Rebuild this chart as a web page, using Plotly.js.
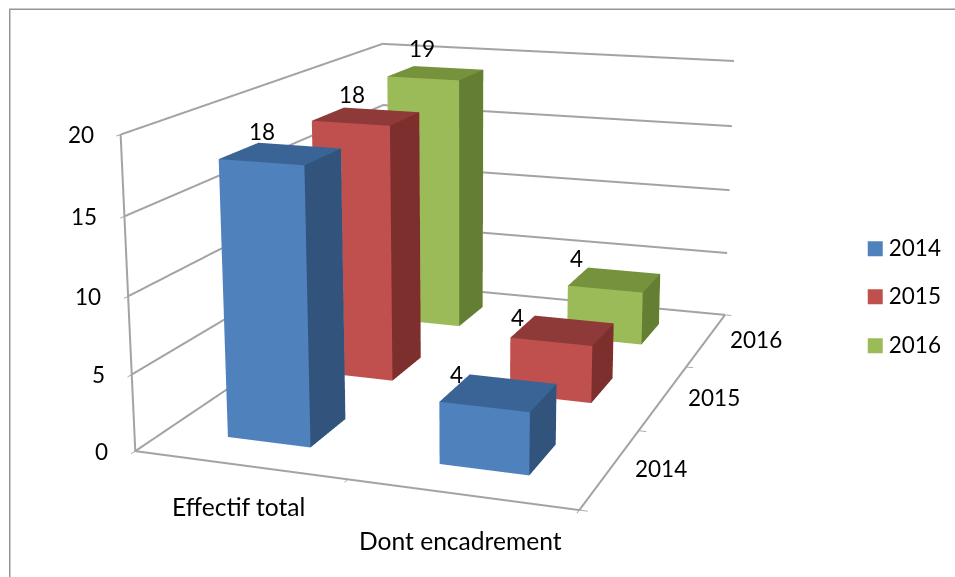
<!DOCTYPE html>
<html><head><meta charset="utf-8">
<script src="https://cdn.plot.ly/plotly-3.0.1.min.js"></script>
<style>html,body{margin:0;padding:0;overflow:hidden;background:#fff;width:955px;height:577px}
#g{position:absolute}</style>
</head><body><div id="g"></div>
<script>
const categories=['Effectif total','Dont encadrement'];
const seriesNames=['2014','2015','2016'];
const v2014=[18,4], v2015=[18,4], v2016=[19,4];
const vals=[v2014,v2015,v2016];
const zTicks=[0,5,10,15,20];
// offsets (px) of each value label from the centre of its bar top: [series][category]
const labelShift=[[[-19,22],[-42,18]],[[-14,22],[-45,13]],[[-14,25],[-38,21]]];
const catShift=[-42,-46];
const swatchTop=[241,289,338];
const faceColors=[['#4F81BD','#3A6496','#32547C'],['#C0504D','#8E3A38','#7D2F2E'],['#9BBB59','#76923C','#647F33']];
const lineColor='#a3a3a3';
// camera solved against the reference's axis corners
const ex=1.3978,ey=-3.986,ez=1.0456,ay=1.4621,az=0.6983,f=1808.7125,cx=464.254,cy=236.7386,hw=0.2,hd=0.2;
const H=Math.round(f/1.20711),W=1600;const left=cx-W/2,top_=cy-H/2;
const g=document.getElementById('g');g.style.left=left+'px';g.style.top=top_+'px';g.style.width=W+'px';g.style.height=H+'px';
const pxX=x=>(x-left)/W,pxY=y=>1-(y-top_)/H;
const xMax=categories.length,yMax=seriesNames.length,zMax=zTicks[zTicks.length-1];
const traces=vals.map((vs,s)=>{
  const X=[],Y=[],Z=[],I=[],J=[],K=[],FC=[];
  vs.forEach((val,c)=>{
    const b=X.length;const x0=c+.5-hw,x1=c+.5+hw,y0=s+.5-hd,y1=s+.5+hd;
    [[x0,y0,0],[x1,y0,0],[x1,y1,0],[x0,y1,0],[x0,y0,val],[x1,y0,val],[x1,y1,val],[x0,y1,val]].forEach(p=>{X.push(p[0]);Y.push(p[1]);Z.push(p[2]);});
    const col=faceColors[s];
    const quad=(a,bb,cc,d,cl)=>{I.push(b+a,b+a);J.push(b+bb,b+cc);K.push(b+cc,b+d);FC.push(cl,cl);};
    quad(0,1,5,4,col[0]);quad(4,5,6,7,col[1]);quad(1,2,6,5,col[2]);
    quad(3,2,6,7,col[0]);quad(0,3,7,4,col[0]);quad(0,1,2,3,col[0]);
  });
  return {type:'mesh3d',name:seriesNames[s],showlegend:false,x:X,y:Y,z:Z,i:I,j:J,k:K,facecolor:FC,flatshading:true,hoverinfo:'skip',
    lighting:{ambient:1,diffuse:0,specular:0,fresnel:0,roughness:1},showscale:false};
});
// wall gridlines and axis lines, thick enough to match the reference
const LX=[],LY=[],LZ=[];
zTicks.forEach(t=>{LX.push(0,0,xMax,null);LY.push(0,yMax,yMax,null);LZ.push(t,t,t,null);});
LX.push(0,xMax,xMax,null,0,0);LY.push(0,0,yMax,null,0,0);LZ.push(0,0,0,null,0,zMax);
traces.push({type:'scatter3d',mode:'lines',x:LX,y:LY,z:LZ,line:{color:lineColor,width:4},showlegend:false,hoverinfo:'skip',connectgaps:false});
seriesNames.forEach((n,s)=>traces.push({type:'scatter',mode:'markers',name:n,legendgroup:n,x:[null],y:[null],marker:{symbol:'square',size:15,color:'rgba(255,255,255,0)',line:{width:0}},hoverinfo:'skip'}));
const font={family:'Lato, sans-serif',size:22.5,color:'#000'};
const catFont={family:'Lato, sans-serif',size:24.6,color:'#000'};
const ann=[];
const note=(x,y,z,t,xs,ys,xa,fn)=>ann.push({x,y,z,text:t,showarrow:false,xshift:xs,yshift:ys,xanchor:xa||'center',yanchor:'middle',font:fn||font});
zTicks.forEach(t=>note(0,0,t,String(t),-25,0,'right'));
categories.forEach((t,c)=>note(c+.5,0,0,t,-1,catShift[c],'center',catFont));
seriesNames.forEach((t,s)=>note(xMax,s+.5,0,t,50,0));
vals.forEach((vs,s)=>vs.forEach((val,c)=>note(c+.5,s+.5,val,String(val),labelShift[s][c][0],labelShift[s][c][1])));
const ax={showbackground:false,showspikes:false,showticklabels:false,zeroline:false,title:{text:''},showgrid:false,showline:false,ticks:'outside',ticklen:6,tickcolor:lineColor,tickwidth:2};
const shapes=[{type:'rect',xref:'paper',yref:'paper',x0:pxX(10),x1:pxX(1000),y0:pxY(9),y1:pxY(700),line:{color:'#969696',width:1.5}}];
swatchTop.forEach((t,s)=>shapes.push({type:'rect',xref:'paper',yref:'paper',x0:pxX(868),x1:pxX(883),y0:pxY(t),y1:pxY(t+15),fillcolor:faceColors[s][0],line:{width:0}}));
const layout={width:W,height:H,margin:{l:0,r:0,t:0,b:0},paper_bgcolor:'#fff',font,
 xaxis:{visible:false,domain:[0,0.01]},yaxis:{visible:false,domain:[0,0.01]},
 scene:{domain:{x:[0,1],y:[0,1]},aspectmode:'manual',aspectratio:{x:1,y:ay,z:az},camera:{eye:{x:ex,y:ey,z:ez},center:{x:0,y:0,z:0},up:{x:0,y:0,z:1},projection:{type:'perspective'}},
  xaxis:{...ax,range:[0,xMax],tickmode:'array',tickvals:[0,1,2]},
  yaxis:{...ax,range:[0,yMax],tickmode:'array',tickvals:[0,1,2,3]},
  zaxis:{...ax,range:[0,zMax],tickmode:'array',tickvals:zTicks},
  annotations:ann},
 showlegend:true,legend:{x:pxX(855.5),y:pxY(226),xanchor:'left',yanchor:'top',tracegroupgap:16,indentation:-6.5,font,bgcolor:'rgba(0,0,0,0)'},
 shapes};
Plotly.newPlot('g',traces,layout,{displayModeBar:false});
</script></body></html>
